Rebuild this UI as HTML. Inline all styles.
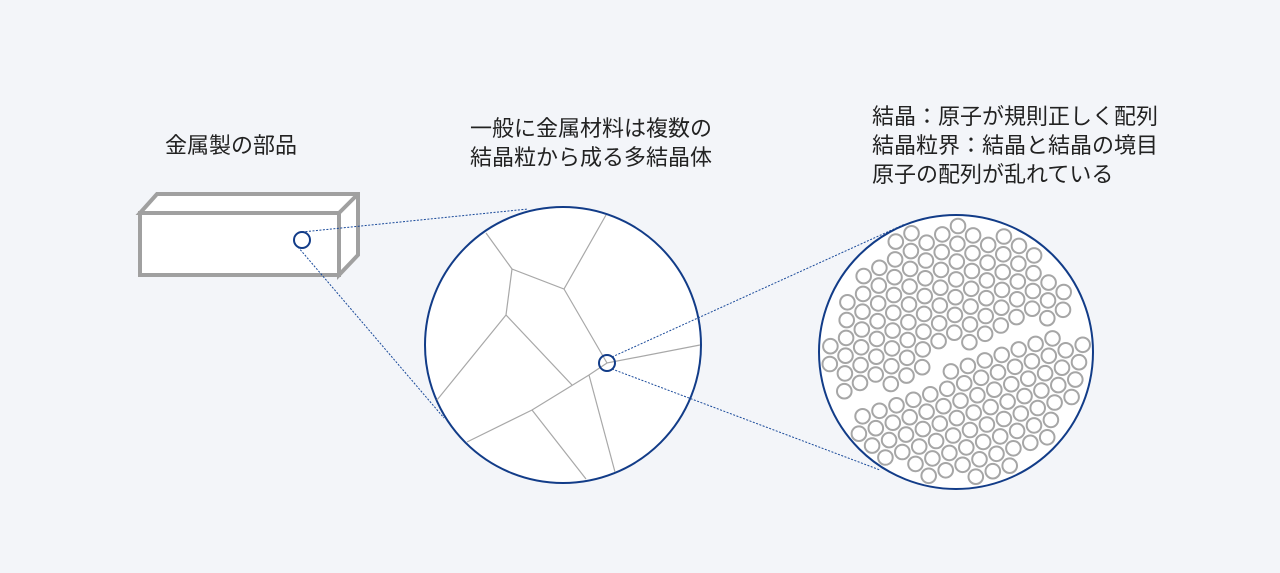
<!DOCTYPE html>
<html><head><meta charset="utf-8"><style>
html,body{margin:0;padding:0;background:#f3f5f9;}
body{width:1280px;height:573px;position:relative;overflow:hidden;font-family:"Liberation Sans","Noto Sans CJK JP",sans-serif;color:#222;}
.t{position:absolute;font-size:22px;line-height:29px;white-space:nowrap;}
svg{position:absolute;left:0;top:0;}
</style></head><body>
<div class="t" style="left:165px;top:131px;">金属製の部品</div>
<div class="t" style="left:470px;top:114px;">一般に金属材料は複数の<br>結晶粒から成る多結晶体</div>
<div class="t" style="left:872px;top:102px;">結晶：原子が規則正しく配列<br>結晶粒界：結晶と結晶の境目<br>原子の配列が乱れている</div>
<svg width="1280" height="573" viewBox="0 0 1280 573">
<g fill="#fff" stroke="#a0a0a0" stroke-width="4" stroke-linejoin="miter">
<polygon points="140,213 157,194 358,194 358,255 339,275 339,213"/>
<rect x="140" y="213" width="199" height="62"/>
<line x1="339" y1="213" x2="358" y2="194"/>
</g>
<circle cx="563" cy="345" r="138" fill="#fff" stroke="#123c88" stroke-width="2"/>
<g stroke="#a8a8a8" stroke-width="1.2" fill="none">
<polyline points="486,233 512,269 564,289 606,215"/>
<polyline points="512,269 506,315 437,400"/>
<polyline points="506,315 572,385"/>
<polyline points="564,289 607,363 700,345"/>
<polyline points="467,442 532,410 589,375 607,363"/>
<polyline points="589,375 615,472"/>
<polyline points="532,410 586,479"/>
</g>
<g stroke="#1a4a9a" stroke-width="1" stroke-dasharray="2,1.5" fill="none">
<line x1="302" y1="232" x2="528" y2="209"/>
<line x1="298" y1="247" x2="444" y2="418"/>
<line x1="612" y1="357" x2="905" y2="224"/>
<line x1="612" y1="369" x2="880" y2="470"/>
</g>
<circle cx="302" cy="240" r="8" fill="#fff" stroke="#123c88" stroke-width="2"/>
<circle cx="607" cy="363" r="8" fill="none" stroke="#123c88" stroke-width="2"/>
<circle cx="956" cy="352" r="137" fill="#fff" stroke="#123c88" stroke-width="2"/>
<g id="atoms" fill="none" stroke="#a6a6a6" stroke-width="2"></g>
</svg>
<script>
(function(){
var g=document.getElementById('atoms');var ns='http://www.w3.org/2000/svg';
var cx=956,cy=352,R=137,d=17.8;
var bx=[820,850,905,950,995,1075,1100],by=[414,408,388,360,342,323,318];
function bnd(x){for(var i=0;i<bx.length-1;i++){if(x<=bx[i+1]){var t=(x-bx[i])/(bx[i+1]-bx[i]);return by[i]+t*(by[i+1]-by[i]);}}return by[by.length-1];}
function grain(ang,ox,oy,upper){
 var a=ang*Math.PI/180,ux=Math.cos(a),uy=Math.sin(a),vx=Math.cos(a+Math.PI/3),vy=Math.sin(a+Math.PI/3);
 for(var i=-20;i<=20;i++)for(var j=-20;j<=20;j++){
  var x=ox+i*d*ux+j*d*vx,y=oy+i*d*uy+j*d*vy;
  var dd=Math.hypot(x-cx,y-cy);if(dd>R-10)continue;
  var b=bnd(x);
  if(upper){if(y>b-9)continue;}else{if(y<b+9)continue;}
  var c=document.createElementNS(ns,'circle');c.setAttribute('cx',x.toFixed(1));c.setAttribute('cy',y.toFixed(1));c.setAttribute('r','7.3');g.appendChild(c);
 }
}
grain(-28,958,226,true);
grain(-18,970,430,false);
})();
</script>
</body></html>
